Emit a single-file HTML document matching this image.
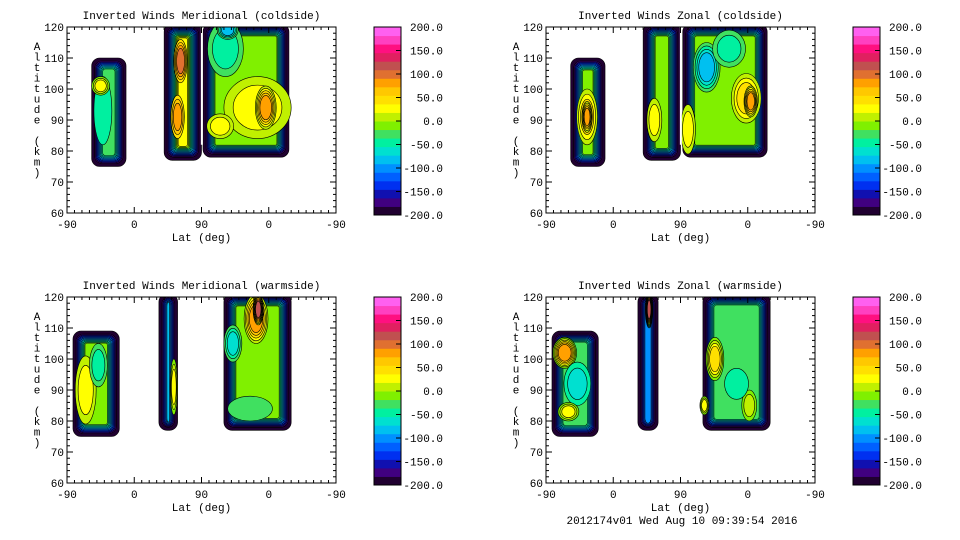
<!DOCTYPE html>
<html><head><meta charset="utf-8"><style>
body{margin:0;background:#fff;width:960px;height:540px;overflow:hidden}
svg{display:block}
text{font-family:"Liberation Mono",monospace;font-size:11px;fill:#000}
</style></head><body>
<svg id="chart" width="960" height="540"></svg>
<script>
const colorBins=["#200030","#400080","#1010b0","#0030f0","#0060ff","#0090ff","#00c0f0","#00e0d0","#00f0a0","#40e060","#80f000","#c0f000","#ffff00","#ffe000","#ffc800","#ffa000","#e07030","#c05050","#e02060","#ff1080","#ff40c0","#ff60f0"];
const cbTicks=["200.0","150.0","100.0","50.0","0.0","-50.0","-100.0","-150.0","-200.0"];
const xTicks=["-90","0","90","0","-90"];
const yTicks=[120,110,100,90,80,70,60];
const panelTitles=["Inverted Winds Meridional (coldside)","Inverted Winds Zonal (coldside)","Inverted Winds Meridional (warmside)","Inverted Winds Zonal (warmside)"];
// blobs: [panel, u0, u1, alt0, alt1, baseColorIndex]
const blobs=[[0,33,79,75,110,9],[0,130,180,77,121,12],[0,182,297,78,121,10],
[1,33,79,75,110,10],[1,130,180,77,121,10],[1,183,296,78,121,10],
[2,8,70,75,109,10],[2,123,148,77,121,9],[2,210,300,77,121,10],
[3,8,70,75,109,9],[3,123,150,77,121,5],[3,210,300,77,121,9]];
// spots: [panel, u, alt, ru, ralt, colorIndex]
const spots=[[0,48,93,12,11,8],[0,45,101,12,3,12],[0,152,109,9,7,16],[0,148,91,9,7,15],[0,255,94,45,10,12],[0,266,94,14,7,15],[0,212,113,24,9,8],[0,215,119,14,3,6],[0,205,88,18,4,12],
[1,55,91,14,9,13],[1,55,91,7,5,15],[1,145,90,10,7,12],[1,215,107,18,8,6],[1,268,97,20,8,13],[1,274,96,9,5,15],[1,245,113,22,6,8],[1,190,87,10,8,12],
[2,25,90,14,11,12],[2,42,98,12,7,8],[2,143,91,5,9,12],[2,253,113,16,8,15],[2,256,116,7,5,17],[2,222,105,12,6,7],[2,245,84,30,4,9],
[3,25,102,16,5,15],[3,42,92,18,7,7],[3,30,83,14,3,12],[3,138,116,5,6,17],[3,226,100,12,7,13],[3,212,85,6,3,12],[3,272,85,10,5,11],[3,255,92,16,5,8]];
const NS='http://www.w3.org/2000/svg';
const svg=document.getElementById('chart');
function mk(tag,attrs,parent){const e=document.createElementNS(NS,tag);for(const k in attrs)e.setAttribute(k,attrs[k]);(parent||svg).appendChild(e);return e;}
const panels=[{x0:67,y0:27},{x0:546,y0:27},{x0:67,y0:297},{x0:546,y0:297}];
const PW=269,PH=186;
panels.forEach((p,pi)=>{
  const g=mk('g',{});
  
  
  const xs=u=>p.x0+u*PW/360, ys=a=>p.y0+(120-a)*PH/60;
  const clip=mk('clipPath',{id:'c'+pi},g);mk('rect',{x:p.x0,y:p.y0,width:PW,height:PH},clip);
  const inner=mk('g',{'clip-path':'url(#c'+pi+')'},g);
  blobs.filter(b=>b[0]===pi).forEach(b=>{
    const x0=xs(b[1]),x1=xs(b[2]),y0=ys(b[4]),y1=ys(b[3]);
    for(let i=0;i<=b[5];i++){
      const d=i===0?0:2+i*1.0;
      if(x1-x0-2*d<2||y1-y0-2*d<2)break;
      const r=mk('rect',{x:x0+d,y:y0+d,width:x1-x0-2*d,height:y1-y0-2*d,rx:Math.max(2,8-i*0.6),fill:colorBins[i],stroke:'#000','stroke-width':0.6},inner);
      
      
    }
  });
  spots.filter(s=>s[0]===pi).forEach(s=>{
    const base=blobs.find(b=>b[0]===pi&&s[1]>=b[1]&&s[1]<=b[2]);
    const b0=base?base[5]:10;
    const steps=Math.max(1,Math.abs(s[5]-b0));
    const dir=s[5]>=b0?1:-1;
    for(let k=1;k<=steps;k++){
      const f=1-(k-1)/steps*0.55;
      const e=mk('ellipse',{cx:xs(s[1]),cy:ys(s[2]),rx:s[3]*PW/360*f,ry:s[4]*PH/60*f,fill:colorBins[b0+dir*k],stroke:'#000','stroke-width':0.6},inner);
      
      
    }
  });
  if(pi<2){mk('line',{x1:xs(180.5),x2:xs(180.5),y1:p.y0,y2:ys(82),stroke:'#fff','stroke-width':2},inner);}
  const fr=mk('rect',{x:p.x0,y:p.y0,width:PW,height:PH,fill:'none',stroke:'#000','stroke-width':1},g);
  
  
  for(let a=60;a<=120;a+=2){const m=a%10===0?6:3;
    mk('line',{x1:p.x0,x2:p.x0+m,y1:ys(a),y2:ys(a),stroke:'#000'},g);
    mk('line',{x1:p.x0+PW,x2:p.x0+PW-m,y1:ys(a),y2:ys(a),stroke:'#000'},g);}
  yTicks.forEach(a=>{const t=mk('text',{x:p.x0-3,y:ys(a)+4,'text-anchor':'end'},g);t.textContent=a;
    });
  for(let u=0;u<=360;u+=10){const m=u%90===0?6:3;
    mk('line',{x1:xs(u),x2:xs(u),y1:p.y0+PH,y2:p.y0+PH-m,stroke:'#000'},g);
    mk('line',{x1:xs(u),x2:xs(u),y1:p.y0,y2:p.y0+m,stroke:'#000'},g);}
  xTicks.forEach((l,i)=>{const t=mk('text',{x:xs(i*90),y:p.y0+PH+15,'text-anchor':'middle'},g);t.textContent=l;
    });
  const xt=mk('text',{x:p.x0+PW/2,y:p.y0+PH+28,'text-anchor':'middle'},g);xt.textContent='Lat (deg)';
  
  const tt=mk('text',{x:p.x0+PW/2,y:p.y0-8,'text-anchor':'middle'},g);tt.textContent=panelTitles[pi];
  
  const yl="Altitude (km)";
  for(let i=0;i<yl.length;i++){if(yl[i]===' ')continue;const c=mk('text',{x:p.x0-30,y:p.y0+23+i*10.5,'text-anchor':'middle'},g);c.textContent=yl[i];
    }
  const cx=p.x0+307,cy=p.y0,ch=188,cw=27,n=colorBins.length;
  colorBins.forEach((c,i)=>{const r=mk('rect',{x:cx,y:cy+ch-(i+1)*ch/n,width:cw,height:ch/n+0.5,fill:c},g);
    });
  mk('rect',{x:cx,y:cy,width:cw,height:ch,fill:'none',stroke:'#000'},g);
  cbTicks.forEach((l,i)=>{const y=cy+i*ch/8;mk('line',{x1:cx+cw-5,x2:cx+cw,y1:y,y2:y,stroke:'#000'},g);
    const t=mk('text',{x:cx+69,y:y+4,'text-anchor':'end'},g);t.textContent=l;
    });
});
const f=mk('text',{x:682,y:524,'text-anchor':'middle'});f.textContent='2012174v01 Wed Aug 10 09:39:54 2016';

</script>
</body></html>
